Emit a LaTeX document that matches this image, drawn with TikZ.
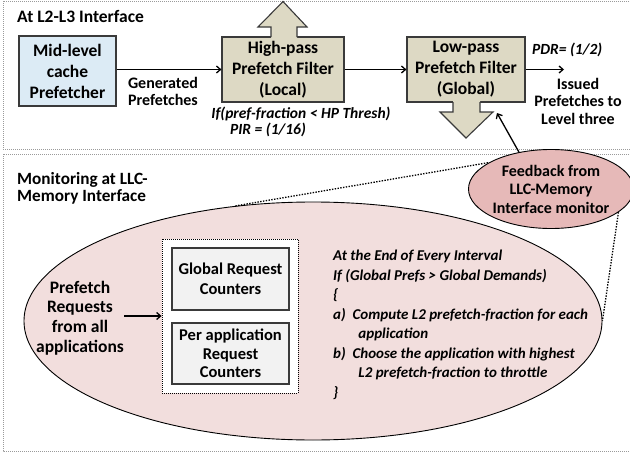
\documentclass[tikz,border=0pt]{standalone}
\usepackage{fontspec}
\setmainfont{Carlito}
\usetikzlibrary{shapes.geometric,arrows.meta}
\begin{document}
\definecolor{blueF}{HTML}{DCEBF5}
\definecolor{khaki}{HTML}{DDD9C4}
\definecolor{pinkL}{HTML}{F2DEDD}
\definecolor{pinkD}{HTML}{E6B9B8}
\definecolor{grayF}{HTML}{F2F2F2}
\definecolor{frameG}{HTML}{9A9A9A}
\definecolor{edgeG}{HTML}{3A3A3A}
\tikzset{
  frame/.style={draw=frameG, line width=1pt, dash pattern=on 1pt off 1pt},
  boxtxt/.style={font=\bfseries\fontsize{17.5}{21}\selectfont, align=center, inner sep=0pt},
  lbl/.style={font=\bfseries\fontsize{16}{17.5}\selectfont, align=center, inner sep=0pt},
  itl/.style={font=\bfseries\itshape\fontsize{15.5}{17}\selectfont, inner sep=0pt},
  bluebox/.style={draw=edgeG, line width=1.1pt, fill=blueF, minimum width=97pt, minimum height=70pt, boxtxt},
  khakibox/.style={draw=edgeG, line width=1.1pt, fill=khaki, minimum height=65pt, boxtxt},
  cntbox/.style={draw=edgeG, line width=1.1pt, fill=grayF, minimum width=117pt, boxtxt, font=\bfseries\fontsize{16.5}{19.5}\selectfont},
  conn/.style={line width=1.3pt, -{Straight Barb[length=4pt,width=7pt]}},
  callout/.style={line width=1.3pt, dash pattern=on 1.4pt off 1.4pt},
}
\begin{tikzpicture}[x=1pt,y=-1pt]
\useasboundingbox (0,0) rectangle (630,455);
\clip (0,0) rectangle (630,455);
% frames
\draw[frame] (3,1) rectangle (640,149);
\draw[frame] (3,154) rectangle (640,451);
\node[anchor=west, font=\bfseries\fontsize{17.5}{20}\selectfont, inner sep=0pt] (t1) at (17,16) {At L2-L3 Interface};
\node[anchor=north west, font=\bfseries\fontsize{17.2}{17}\selectfont, align=left, inner sep=0pt] (t2) at (17,172) {Monitoring at LLC-\\Memory Interface};

% top row
\node[bluebox] (mid) at (67.5,71) {Mid-level\\cache\\Prefetcher};
\node[khakibox, minimum width=122pt] (hp) at (283,69.5) {High-pass\\Prefetch Filter\\(Local)};
\node[khakibox, minimum width=118pt] (lp) at (466,69.5) {Low-pass\\Prefetch Filter\\(Global)};

% up arrow on hp
\fill[khaki] (271,38) -- (271,27) -- (258,27) -- (283,1.5) -- (307,27) -- (297,27) -- (297,38) -- cycle;
\draw[edgeG, line width=1.1pt, line join=miter] (271,37) -- (271,27) -- (258,27) -- (283,1.5) -- (307,27) -- (297,27) -- (297,37);
% down arrow on lp
\fill[khaki] (453,101) -- (453,112) -- (440,112) -- (466,138) -- (493,112) -- (480,112) -- (480,101) -- cycle;
\draw[edgeG, line width=1.1pt, line join=miter] (453,102) -- (453,112) -- (440,112) -- (466,138) -- (493,112) -- (480,112) -- (480,102);

\draw[conn] (mid.east |- hp.west) -- (hp.west);
\draw[conn] (hp.east) -- (lp.west);
\coordinate (out) at (564,69.5);
\draw[conn] (lp.east) -- (out);

\node[lbl] (gen) at (163,91.5) {Generated\\Prefetches};
\node[itl] (cond) at (301,114) {If(pref-fraction < HP Thresh)};
\node[itl] (pir) at (268,130) {PIR = (1/16)};
\node[itl, anchor=west] (pdr) at (532,50) {PDR= (1/2)};
\node[lbl] (iss) at (578,101) {Issued\\Prefetches to\\Level three};

% bottom
\node[ellipse, draw, line width=0.9pt, fill=pinkL, minimum width=578pt, minimum height=238pt, inner sep=0pt] (big) at (313,321) {};
\node[ellipse, draw, line width=0.9pt, fill=pinkD, minimum width=154pt, minimum height=79pt, inner sep=0pt, font=\bfseries\fontsize{16}{18.5}\selectfont, align=center] (fb) at (551,189) {Feedback from\\LLC-Memory\\Interface monitor};
\draw[callout] (big.124) -- (fb.157);
\draw[callout] (fb.-19) -- (big.0);
\coordinate (fbtip) at (497,113);
\draw[conn] (fb.131) -- (fbtip);

\node[draw, fill=white, line width=0.8pt, dash pattern=on 1pt off 1pt, minimum width=136pt, minimum height=154pt, inner sep=0pt] (inner) at (230,316) {};
\node[cntbox, minimum height=62pt] (glob) at (230.5,279) {Global Request\\Counters};
\node[cntbox, minimum height=61pt, font=\bfseries\fontsize{16.5}{18.5}\selectfont] (per) at (230.5,353.5) {Per application\\Request\\Counters};

\node[font=\bfseries\fontsize{17.5}{19.7}\selectfont, align=center, inner sep=0pt] (req) at (80,318) {Prefetch\\Requests\\from all\\applications};
\coordinate (reqa) at (124,316);
\draw[conn] (reqa) -- (inner.west);

\node[anchor=north west, font=\bfseries\itshape\fontsize{15}{19.5}\selectfont, align=left, inner sep=0pt] (code) at (333,250) {At the End of Every Interval\\
If (Global Prefs > Global Demands)\\
\{\\
a)\ \ Compute L2 prefetch-fraction for each\\
\phantom{a)\ \ }\ \,application\\
b)\ \ Choose the application with highest\\
\phantom{b)\ \ }\ \,L2 prefetch-fraction to throttle\\
\}};
\end{tikzpicture}
\end{document}
